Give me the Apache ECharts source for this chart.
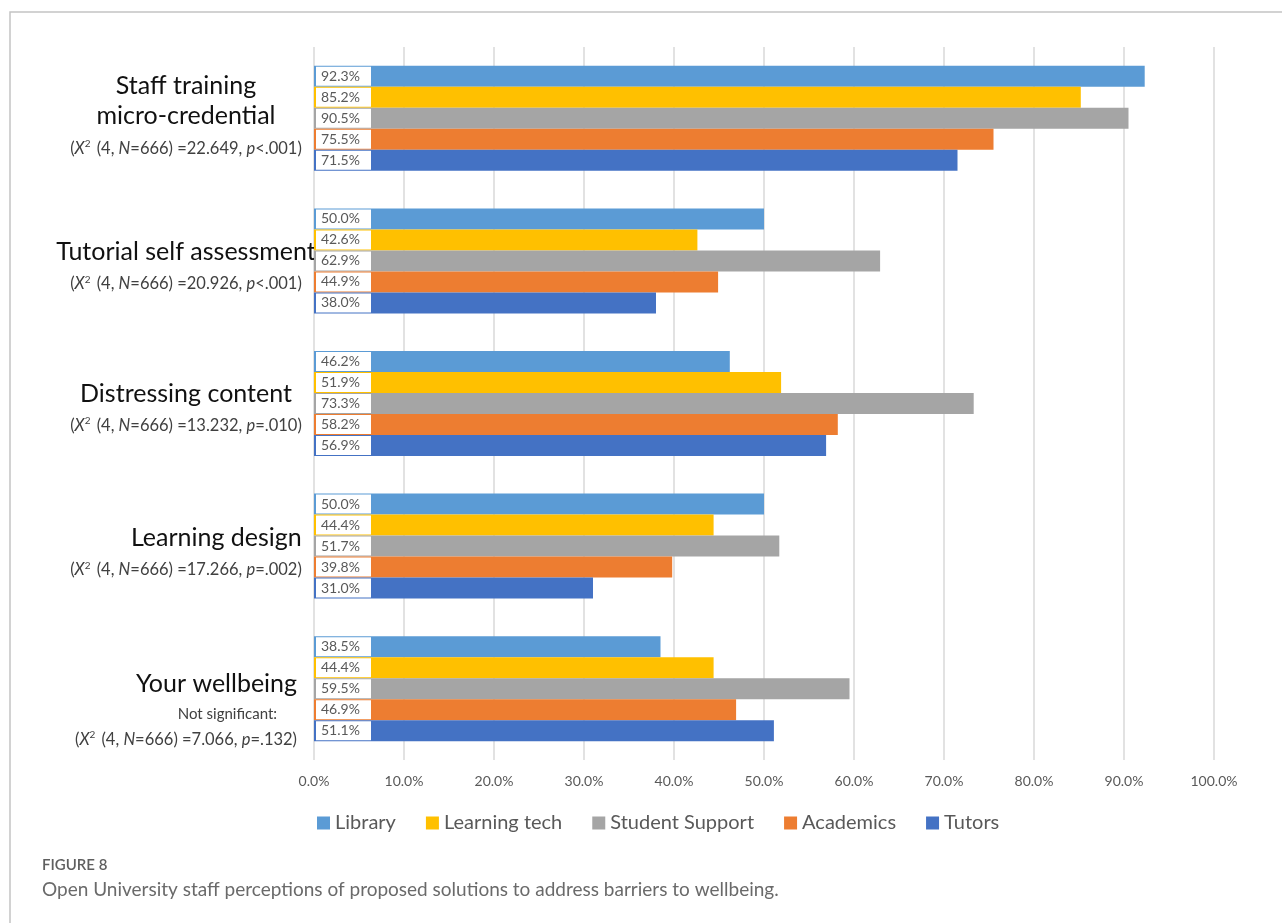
<!DOCTYPE html>
<html>
<head>
<meta charset="utf-8">
<title>Figure 8</title>
<script src="https://cdn.jsdelivr.net/npm/echarts@6/dist/echarts.min.js"></script>
<style>
  html, body { margin: 0; padding: 0; background: #fff; }
  #main { width: 1282px; height: 923px; }
</style>
</head>
<body>
<div id="main"></div>
<script>
// categories, top to bottom
var categories = ['Staff training\nmicro-credential', 'Tutorial self assessment', 'Distressing content', 'Learning design', 'Your wellbeing'];
var chiValues = ['22.649', '20.926', '13.232', '17.266', '7.066'];
var pValues = ['<.001', '<.001', '=.010', '=.002', '=.132'];
var notes = ['', '', '', '', 'Not significant:'];

var seriesNames = ['Library', 'Learning tech', 'Student Support', 'Academics', 'Tutors'];
var library = [92.3, 50.0, 46.2, 50.0, 38.5];
var learningTech = [85.2, 42.6, 51.9, 44.4, 44.4];
var studentSupport = [90.5, 62.9, 73.3, 51.7, 59.5];
var academics = [75.5, 44.9, 58.2, 39.8, 46.9];
var tutors = [71.5, 38.0, 56.9, 31.0, 51.1];
var colors = ['#5B9BD5', '#FFC000', '#A5A5A5', '#ED7D31', '#4472C4'];

// per-category layout tweaks for the axis label block
var spacers = [0, 16, 14, 18, 42];
var titleStyle = ['t', 't', 't', 'tr', 'tr'];

var myChart = echarts.init(document.getElementById('main'));

function catLabel(value, idx) {
    var s = '';
    if (spacers[idx]) s += '{sp' + idx + '| }\n';
    value.split('\n').forEach(function (line) {
        s += '{' + titleStyle[idx] + '|' + line + '}\n';
    });
    if (notes[idx]) s += '{note|' + notes[idx] + '}\n';
    var st = notes[idx] ? 'st2' : 'st';
    var it = notes[idx] ? 'it2' : 'it';
    s += '{' + st + '|(}{' + it + '|X}{sup|2}{' + st + '| (4, }{' + it + '|N}{' + st + '|=666) =' + chiValues[idx] + ', }{' + it + '|p}{' + st + '|' + pValues[idx] + ')}';
    return s;
}

var rich = {
    t: { fontFamily: 'Lato', fontSize: 25, color: '#111', lineHeight: 30 },
    tr: { fontFamily: 'Lato', fontSize: 25, color: '#111', lineHeight: 30, align: 'right' },
    note: { fontFamily: 'Lato', fontSize: 15, color: '#404040', lineHeight: 29, align: 'right', padding: [0, 20, 0, 0] },
    st: { fontFamily: 'Lato', fontSize: 16.5, color: '#404040', lineHeight: 34 },
    it: { fontFamily: 'Lato', fontSize: 16.5, fontStyle: 'italic', color: '#404040', lineHeight: 34 },
    st2: { fontFamily: 'Lato', fontSize: 16.5, color: '#404040', lineHeight: 22 },
    it2: { fontFamily: 'Lato', fontSize: 16.5, fontStyle: 'italic', color: '#404040', lineHeight: 22 },
    sup: { fontFamily: 'Lato', fontSize: 10, color: '#404040', padding: [0, 2, 9, 0] }
};
spacers.forEach(function (h, i) {
    rich['sp' + i] = { fontSize: 1, lineHeight: h };
});

var seriesData = [library, learningTech, studentSupport, academics, tutors];

var option = {
    animation: false,
    color: colors,
    graphic: [
        {
            type: 'rect',
            shape: { x: 10, y: 12, width: 1400, height: 1000 },
            style: { fill: 'none', stroke: '#c4c4c4', lineWidth: 1.5 },
            silent: true
        },
        {
            type: 'text',
            left: 42, top: 858,
            style: { text: 'FIGURE 8', font: '600 15px Lato', fill: '#5f5f5f' }
        },
        {
            type: 'text',
            left: 42, top: 880,
            style: { text: 'Open University staff perceptions of proposed solutions to address barriers to wellbeing.', font: '19px Lato', fill: '#6a6a6a' }
        }
    ],
    legend: {
        data: seriesNames,
        left: 312,
        top: 808,
        icon: 'rect',
        itemWidth: 13,
        itemHeight: 13,
        itemGap: 30,
        textStyle: { fontFamily: 'Lato', fontSize: 20, color: '#595959' }
    },
    grid: {
        left: 314,
        right: 68,
        top: 47,
        bottom: 163
    },
    xAxis: {
        type: 'value',
        min: 0,
        max: 100,
        interval: 10,
        axisLine: { show: false },
        axisTick: { show: false },
        splitLine: { lineStyle: { color: '#d9d9d9', width: 1.5 } },
        axisLabel: {
            margin: 14,
            fontFamily: 'Lato',
            fontSize: 14,
            color: '#595959',
            formatter: function (v) { return v.toFixed(1) + '%'; }
        }
    },
    yAxis: {
        type: 'category',
        inverse: true,
        data: categories,
        axisLine: { show: false },
        axisTick: { show: false },
        axisLabel: {
            margin: 128,
            align: 'center',
            formatter: catLabel,
            rich: rich
        }
    },
    series: seriesNames.map(function (name, i) {
        return {
            name: name,
            type: 'bar',
            data: seriesData[i],
            barWidth: 21,
            barGap: '0%',
            label: {
                show: true,
                position: 'insideLeft',
                distance: 2,
                backgroundColor: '#fff',
                padding: [2, 2, 2, 5],
                width: 48,
                lineHeight: 15,
                fontFamily: 'Lato',
                fontSize: 14,
                color: '#595959',
                formatter: function (p) { return p.value.toFixed(1) + '%'; }
            }
        };
    })
};

// 使用刚指定的配置项和数据显示图表。
myChart.setOption(option);
</script>
</body>
</html>
